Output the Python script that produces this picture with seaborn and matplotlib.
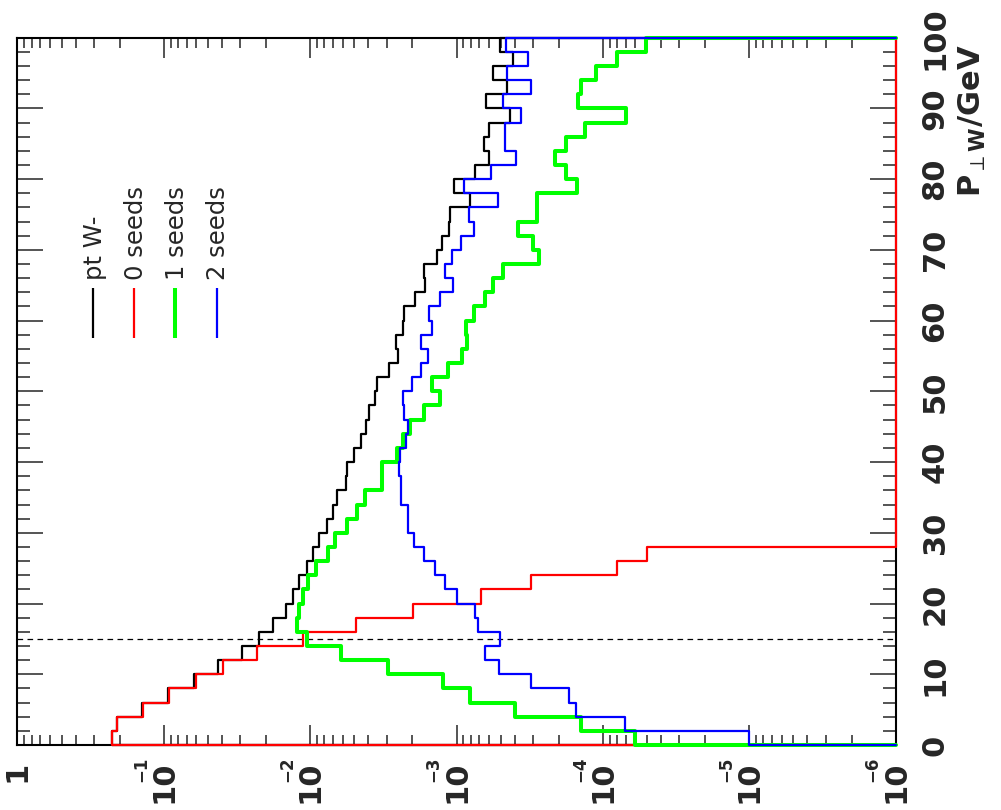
import numpy as np
import matplotlib
matplotlib.use("Agg")
import matplotlib.pyplot as plt
import matplotlib.transforms as mtransforms
from matplotlib.ticker import FixedLocator, LogLocator, MultipleLocator, NullFormatter
import seaborn as sns

# 2 GeV bins from 0 to 100 GeV
bin_edges = np.arange(0, 101, 2)

# transverse momentum of the W- (all events)
pt_total = [
    0.2274, 0.2083, 0.1402, 0.0933, 0.0619, 0.0425, 0.0294, 0.0224, 0.0180, 0.01466,
    0.01306, 0.01189, 0.01059, 0.00953, 0.00868, 0.00773, 0.00697, 0.00654, 0.00570, 0.00561,
    0.00503, 0.00451, 0.00417, 0.00395, 0.00360, 0.00349, 0.00289, 0.00250, 0.00260, 0.00232,
    0.00229, 0.00193, 0.00164, 0.00168, 0.00137, 0.00125, 0.00112, 0.00110, 8.11e-4, 1.04e-3,
    7.50e-4, 6.01e-4, 6.51e-4, 6.01e-4, 4.32e-4, 6.31e-4, 4.51e-4, 5.62e-4, 4.10e-4, 5.06e-4,
]
# events with 0 seeds
seeds_0 = [
    0.2273, 0.2081, 0.1396, 0.0923, 0.0604, 0.0393, 0.0230, 0.01127, 0.00487, 0.00198,
    6.85e-4, 3.08e-4, 8.07e-5, 4.99e-5, 0.0, 0.0, 0.0, 0.0, 0.0, 0.0,
    0.0, 0.0, 0.0, 0.0, 0.0, 0.0, 0.0, 0.0, 0.0, 0.0,
    0.0, 0.0, 0.0, 0.0, 0.0, 0.0, 0.0, 0.0, 0.0, 0.0,
    0.0, 0.0, 0.0, 0.0, 0.0, 0.0, 0.0, 0.0, 0.0, 0.0,
]
# events with 1 seed
seeds_1 = [
    6.05e-5, 1.40e-4, 4.00e-4, 8.11e-4, 1.234e-3, 2.93e-3, 6.17e-3, 0.01058, 0.01239, 0.01189,
    0.01127, 0.01032, 9.14e-3, 7.60e-3, 6.78e-3, 5.64e-3, 4.78e-3, 4.23e-3, 3.25e-3, 3.25e-3,
    2.57e-3, 2.34e-3, 2.08e-3, 1.67e-3, 1.30e-3, 1.48e-3, 1.14e-3, 9.24e-4, 8.47e-4, 8.64e-4,
    7.62e-4, 6.41e-4, 5.62e-4, 4.81e-4, 2.73e-4, 3.00e-4, 3.79e-4, 2.84e-4, 2.84e-4, 1.51e-4,
    1.80e-4, 2.11e-4, 1.80e-4, 1.32e-4, 6.98e-5, 1.49e-4, 1.40e-4, 1.11e-4, 8.0e-5, 5.04e-5,
]
# events with 2 seeds
seeds_2 = [
    1.00e-5, 7.01e-5, 1.515e-4, 1.70e-4, 3.08e-4, 5.12e-4, 6.41e-4, 5.06e-4, 7.19e-4, 7.50e-4,
    9.91e-4, 1.20e-3, 1.41e-3, 1.67e-3, 1.95e-3, 2.14e-3, 2.16e-3, 2.38e-3, 2.38e-3, 2.47e-3,
    2.44e-3, 2.20e-3, 2.16e-3, 2.28e-3, 2.32e-3, 2.01e-3, 1.76e-3, 1.56e-3, 1.76e-3, 1.46e-3,
    1.54e-3, 1.30e-3, 1.06e-3, 1.20e-3, 1.08e-3, 9.39e-4, 7.62e-4, 8.20e-4, 5.20e-4, 8.91e-4,
    5.77e-4, 3.94e-4, 4.68e-4, 4.68e-4, 3.60e-4, 4.81e-4, 3.11e-4, 4.51e-4, 3.27e-4, 4.61e-4,
]

series_names = ["pt W-", "0 seeds", "1 seeds", "2 seeds"]
series_values = [pt_total, seeds_0, seeds_1, seeds_2]
series_colors = ["#000000", "#ff0000", "#00ff00", "#0000ff"]
series_widths = [1.6, 1.6, 2.9, 1.6]

cut_pt = 15
log_min, log_max = 1e-6, 1.0
log_ticks = [1, 1e-1, 1e-2, 1e-3, 1e-4, 1e-5, 1e-6]
log_tick_mantissa = ["1", "10", "10", "10", "10", "10", "10"]
log_tick_exponent = ["", "\u22121", "\u22122", "\u22123", "\u22124", "\u22125", "\u22126"]
pt_ticks = [0, 10, 20, 30, 40, 50, 60, 70, 80, 90, 100]
axis_title = r"$\mathbf{P}_{\perp\mathbf{W}}$/GeV"

sns.set_style("ticks")
plt.rcParams["font.family"] = ["DejaVu Sans"]
plt.rcParams["mathtext.fontset"] = "dejavusans"
plt.rcParams["axes.linewidth"] = 1.5
plt.rcParams["axes.edgecolor"] = "black"

fig = plt.figure(figsize=(10.01, 8.10), dpi=100)
ax = fig.add_axes([0.01748, 0.08025, 0.8772, 0.8732])

# rotated histograms: value on the horizontal log axis, pT on the vertical axis
for name, vals, color, lw in zip(series_names, series_values, series_colors, series_widths):
    v = np.maximum(np.asarray(vals, dtype=float), log_min)
    xs = np.concatenate([[log_min], v, [log_min]])
    ys = np.concatenate([bin_edges[:1], bin_edges[1:], bin_edges[-1:]])
    sns.lineplot(x=xs, y=ys, sort=False, estimator=None, drawstyle="steps-post",
                 color=color, linewidth=lw, ax=ax, clip_on=False, zorder=3)

ax.axhline(cut_pt, color="black", linewidth=0.9, linestyle=(0, (4.5, 3.5)), zorder=2)

ax.set_xscale("log")
ax.set_xlim(log_max, log_min)
ax.set_ylim(0, 100)
ax.set_xlabel("")
ax.set_ylabel("")

ax.xaxis.set_major_locator(FixedLocator(log_ticks))
ax.set_xticklabels(log_tick_mantissa)
ax.xaxis.set_minor_locator(LogLocator(base=10, subs=np.arange(2, 10)))
ax.xaxis.set_minor_formatter(NullFormatter())
ax.yaxis.set_major_locator(FixedLocator(pt_ticks))
ax.set_yticklabels([str(t) for t in pt_ticks])
ax.yaxis.set_minor_locator(MultipleLocator(2))

ax.tick_params(axis="x", which="major", direction="in", length=14.5, width=1.1,
               top=True, bottom=True, labelsize=22, pad=11.5, labelrotation=90)
ax.tick_params(axis="x", which="minor", direction="in", length=7.2, width=1.1,
               top=True, bottom=True)
ax.tick_params(axis="y", which="major", direction="in", length=19, width=1.1,
               left=True, right=True, labelleft=False, labelright=True,
               labelsize=22, pad=18, labelrotation=90)
ax.tick_params(axis="y", which="minor", direction="in", length=9.5, width=1.1,
               left=True, right=True)
for lbl in ax.get_xticklabels():
    lbl.set_fontweight("bold")
for lbl in ax.get_yticklabels():
    lbl.set_fontweight("bold")
    lbl.set_verticalalignment("center")

# powers of ten written as small raised exponents next to the "10"
exp_trans = mtransforms.offset_copy(ax.get_xaxis_transform(), fig=fig,
                                    x=-23, y=-12, units="dots")
for tick, ex in zip(log_ticks, log_tick_exponent):
    if ex:
        ax.text(tick, 0, ex, rotation=90, ha="center", va="top", transform=exp_trans,
                fontsize=12, fontweight="bold")

ax.text(1.087, 0.99, axis_title, rotation=90, ha="center", va="top",
        transform=ax.transAxes, fontsize=22, fontweight="bold")

# legend, drawn rotated like the rest of the chart
legend_x = [0.0863, 0.1327, 0.1794, 0.2268]
for name, color, lw, lx in zip(series_names, series_colors, series_widths, legend_x):
    ax.plot([lx, lx], [0.5754, 0.6461], transform=ax.transAxes, color=color,
            linewidth=lw, solid_capstyle="butt", zorder=4)
    ax.text(lx + 0.002, 0.6574, name, rotation=90, ha="center", va="bottom",
            transform=ax.transAxes, fontsize=17.5)

fig.savefig("out.png", dpi=100)
